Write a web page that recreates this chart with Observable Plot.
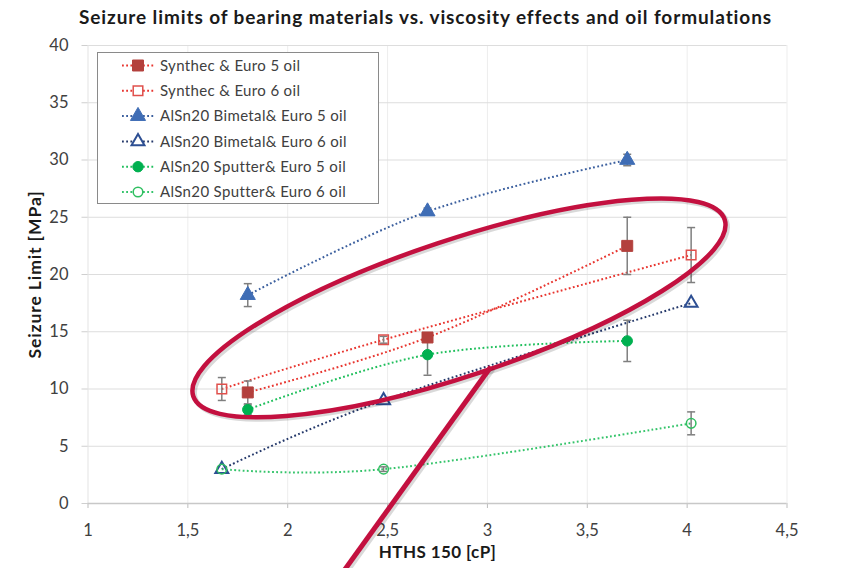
<!DOCTYPE html>
<html>
<head>
<meta charset="utf-8">
<script src="https://cdn.jsdelivr.net/npm/d3@7"></script>
<script src="https://cdn.jsdelivr.net/npm/@observablehq/plot@0.6"></script>
<style>
  html, body { margin: 0; padding: 0; background: #ffffff; }
  #wrap { width: 851px; height: 568px; position: relative; overflow: hidden; }
  #title { height: 36px; line-height: 34px; text-align: center; font-family: Lato, sans-serif;
           font-weight: 700; font-size: 19px; letter-spacing: 0.9px; color: #1a1a1a; white-space: nowrap; }
  svg { display: block; }
</style>
</head>
<body>
<div id="wrap">
  <div id="title">Seizure limits of bearing materials vs. viscosity effects and oil formulations</div>
  <div id="chart"></div>
</div>
<script>
// ---- data ----
const seriesNames = [
  "Synthec & Euro 5 oil",
  "Synthec & Euro 6 oil",
  "AlSn20 Bimetal& Euro 5 oil",
  "AlSn20 Bimetal& Euro 6 oil",
  "AlSn20 Sputter& Euro 5 oil",
  "AlSn20 Sputter& Euro 6 oil"
];
const hthsEuro5 = [1.8, 2.7, 3.7];
const hthsEuro6 = [1.67, 2.48, 4.02];

const synthecEuro5 = [9.7, 14.5, 22.5];
const synthecEuro5Err = [1.0, 0.4, 2.5];
const synthecEuro6 = [10.0, 14.3, 21.7];
const synthecEuro6Err = [1.0, 0.3, 2.4];
const bimetalEuro5 = [18.2, 25.5, 30.0];
const bimetalEuro5Err = [1.0, 0.3, 0.5];
const bimetalEuro6 = [3.0, 9.0, 17.5];
const bimetalEuro6Err = [0, 0, 0];
const sputterEuro5 = [8.2, 13.0, 14.2];
const sputterEuro5Err = [0.4, 1.8, 1.8];
const sputterEuro6 = [3.0, 3.0, 7.0];
const sputterEuro6Err = [0, 0.2, 1.0];

const xTicks = [1, 1.5, 2, 2.5, 3, 3.5, 4, 4.5];
const yTicks = [0, 5, 10, 15, 20, 25, 30, 35, 40];
const xLabel = "HTHS 150 [cP]";
const yLabel = "Seizure Limit [MPa]";

// ---- styles per series ----
const styles = [
  {line: "#e8352f", symbol: "square",   fill: "#b3403d", stroke: "#b3403d", r: 6.2, sw: 1},
  {line: "#e8352f", symbol: "square",   fill: "none",    stroke: "#e0504c", r: 5.4, sw: 1.5},
  {line: "#3b5f9e", symbol: "triangle", fill: "#3f6db5", stroke: "#3f6db5", r: 5.6, sw: 1},
  {line: "#24386a", symbol: "triangle", fill: "none",    stroke: "#2d4f93", r: 4.8, sw: 2},
  {line: "#1fbf5c", symbol: "circle",   fill: "#00b050", stroke: "#00b050", r: 5.2, sw: 1},
  {line: "#34c46a", symbol: "circle",   fill: "none",    stroke: "#2fbf60", r: 4.8, sw: 1.5}
];

const seriesData = [
  [hthsEuro5, synthecEuro5, synthecEuro5Err],
  [hthsEuro6, synthecEuro6, synthecEuro6Err],
  [hthsEuro5, bimetalEuro5, bimetalEuro5Err],
  [hthsEuro6, bimetalEuro6, bimetalEuro6Err],
  [hthsEuro5, sputterEuro5, sputterEuro5Err],
  [hthsEuro6, sputterEuro6, sputterEuro6Err]
];

const rows = [];
seriesData.forEach(([xs, ys, es], i) => {
  xs.forEach((x, j) => rows.push({series: seriesNames[i], idx: i, x, y: ys[j], err: es[j]}));
});

const fmt = d => String(d).replace(".", ",");
const capSymbol = {draw(ctx) { ctx.moveTo(-4, 0); ctx.lineTo(4, 0); }};
const errRows = rows.filter(d => d.err > 0);

const marks = [
  Plot.gridX(xTicks.filter(d => d > 1), {stroke: "#ededed", strokeOpacity: 1}),
  Plot.gridY(yTicks.filter(d => d > 0), {stroke: "#dddddd", strokeOpacity: 1}),
  Plot.ruleX([1], {stroke: "#e3e3e3"}),
  Plot.axisY({ticks: yTicks, tickSize: 6, tickPadding: 13.5, stroke: "#cfcfcf", fontSize: 16.5, fill: "#404040", label: null}),
  Plot.axisX({ticks: xTicks, tickFormat: fmt, tickSize: 5, tickPadding: 15.5, stroke: "#bdbdbd", fontSize: 16.5, fill: "#404040", label: null}),
  Plot.ruleY([0], {stroke: "#c8c8c8", strokeWidth: 1.5}),
  Plot.text([xLabel], {frameAnchor: "bottom", dy: 54, fontSize: 17, fontWeight: 700, fill: "#1a1a1a", className: "axis-title-x"}),
  Plot.text([yLabel], {frameAnchor: "left", textAnchor: "middle", dx: -52.5, rotate: -90, fontSize: 17.5, fontWeight: 700, fill: "#1a1a1a", className: "axis-title-y"})
];

styles.forEach((s, i) => {
  const data = rows.filter(d => d.idx === i);
  marks.push(Plot.line(data, {x: "x", y: "y", curve: "cardinal", stroke: s.line, strokeWidth: 2,
    strokeDasharray: "1.8 2.4", strokeLinecap: "butt"}));
});
marks.push(Plot.ruleX(errRows, {x: "x", y1: d => d.y - d.err, y2: d => d.y + d.err, stroke: "#7f7f7f", strokeWidth: 1.5}));
marks.push(Plot.dot(errRows, {x: "x", y: d => d.y - d.err, symbol: capSymbol, stroke: "#7f7f7f", strokeWidth: 1.5, r: 4}));
marks.push(Plot.dot(errRows, {x: "x", y: d => d.y + d.err, symbol: capSymbol, stroke: "#7f7f7f", strokeWidth: 1.5, r: 4}));
styles.forEach((s, i) => {
  const data = rows.filter(d => d.idx === i);
  marks.push(Plot.dot(data, {x: "x", y: "y", symbol: s.symbol, r: s.r, fill: s.fill, stroke: s.stroke, strokeWidth: s.sw}));
});

const chart = Plot.plot({
  width: 851,
  height: 532,
  marginTop: 9,
  marginBottom: 65,
  marginLeft: 87.5,
  marginRight: 64.5,
  style: {fontFamily: "Lato, sans-serif", background: "transparent", overflow: "visible"},
  x: {type: "linear", domain: [1, 4.5], ticks: xTicks, tickFormat: fmt, label: null},
  y: {type: "linear", domain: [0, 40], ticks: yTicks, label: null},
  marks
});
document.getElementById("chart").appendChild(chart);

// ---- annotations: legend box, ellipse and pointer line ----
const svg = d3.select(chart);
svg.selectAll(".axis-title-x text").attr("letter-spacing", "0.4px");
svg.selectAll(".axis-title-y text").attr("letter-spacing", "0.9px");
const sx = chart.scale("x"), sy = chart.scale("y");

// legend
const lg = svg.append("g").attr("font-family", "Lato, sans-serif").attr("font-size", 15)
  .attr("letter-spacing", "0.35px").attr("fill", "#404040").attr("text-anchor", "start");
lg.append("rect").attr("x", 97.5).attr("y", 16.5).attr("width", 281).attr("height", 151)
  .attr("fill", "#ffffff").attr("stroke", "#8a8a8a").attr("stroke-width", 1);
const symType = {square: d3.symbolSquare, triangle: d3.symbolTriangle, circle: d3.symbolCircle};
styles.forEach((s, i) => {
  const yy = 29.5 + i * 25.3;
  lg.append("line").attr("x1", 122).attr("x2", 154).attr("y1", yy).attr("y2", yy)
    .attr("stroke", s.line).attr("stroke-width", 2).attr("stroke-dasharray", "1.8 2.4");
  lg.append("path").attr("d", d3.symbol().type(symType[s.symbol]).size(Math.PI * s.r * s.r)())
    .attr("transform", `translate(138,${yy})`)
    .attr("fill", s.fill === "none" ? "#ffffff" : s.fill).attr("stroke", s.stroke).attr("stroke-width", s.sw);
  lg.append("text").attr("x", 160).attr("y", yy).attr("dy", "0.35em").text(seriesNames[i]);
});

// highlight ellipse
const cx = sx.apply(2.86), cy = sy.apply(17.04);
const ann = svg.append("g");
ann.append("ellipse").attr("cx", cx + 2).attr("cy", cy + 2).attr("rx", 280).attr("ry", 68)
  .attr("transform", `rotate(-18.4 ${cx + 2} ${cy + 2})`)
  .attr("fill", "none").attr("stroke", "#000").attr("stroke-opacity", 0.15).attr("stroke-width", 5);
ann.append("ellipse").attr("cx", cx).attr("cy", cy).attr("rx", 280).attr("ry", 68)
  .attr("transform", `rotate(-18.4 ${cx} ${cy})`)
  .attr("fill", "none").attr("stroke", "#c3103f").attr("stroke-width", 4.5);
// pointer line
const p1 = [sx.apply(3.02), sy.apply(11.9)], p2 = [sx.apply(2.26), sy.apply(-6.5)];
ann.append("line").attr("x1", p1[0] + 2).attr("y1", p1[1] + 2).attr("x2", p2[0] + 2).attr("y2", p2[1] + 2)
  .attr("stroke", "#000").attr("stroke-opacity", 0.15).attr("stroke-width", 5.5);
ann.append("line").attr("x1", p1[0]).attr("y1", p1[1]).attr("x2", p2[0]).attr("y2", p2[1])
  .attr("stroke", "#c3103f").attr("stroke-width", 5);
</script>
</body>
</html>
